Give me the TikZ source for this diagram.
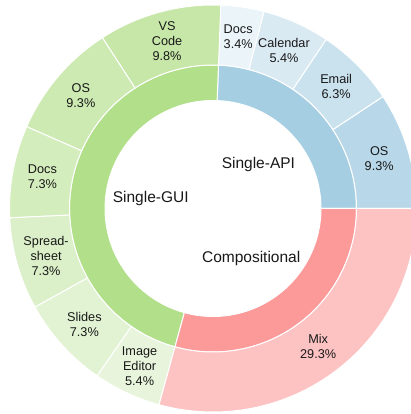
\documentclass[tikz,border=0pt]{standalone}
\usepackage{fontspec}
\setmainfont{Liberation Sans}
\definecolor{guiB}{RGB}{178,223,138}
\definecolor{apiB}{RGB}{166,206,227}
\definecolor{mixB}{RGB}{251,154,153}
\newcommand{\ringseg}[5]{%
  \fill[#1, draw=white, line width=1pt] (#2:#4) arc[start angle=#2, end angle=#3, radius=#4]
    -- (#3:#5) arc[start angle=#3, end angle=#2, radius=#5] -- cycle;}
\tikzset{
  outlbl/.style={align=center, text=black!90, font=\fontsize{12.7}{15}\selectfont, inner sep=0pt},
  inlbl/.style={align=center, text=black!90, font=\fontsize{15.5}{18}\selectfont, inner sep=0pt}
}
\begin{document}
\begin{tikzpicture}[x=1pt,y=1pt]
\useasboundingbox (0,0) rectangle (411,414);
\fill[white] (0,0) rectangle (411,414);
\begin{scope}[shift={(213,205.5)}]
  % inner ring
  \ringseg{apiB}{0}{87.805}{108pt}{143.5pt}
  \ringseg{guiB}{87.805}{254.634}{108pt}{143.5pt}
  \ringseg{mixB}{254.634}{360}{108pt}{143.5pt}
  % outer ring
  \ringseg{apiB!80!white}{0}{33.366}{143.5pt}{203.5pt}
  \ringseg{apiB!60!white}{33.366}{56.195}{143.5pt}{203.5pt}
  \ringseg{apiB!42!white}{56.195}{75.512}{143.5pt}{203.5pt}
  \ringseg{apiB!22!white}{75.512}{87.805}{143.5pt}{203.5pt}
  \ringseg{guiB!74!white}{87.805}{122.927}{143.5pt}{203.5pt}
  \ringseg{guiB!66!white}{122.927}{156.293}{143.5pt}{203.5pt}
  \ringseg{guiB!56!white}{156.293}{182.634}{143.5pt}{203.5pt}
  \ringseg{guiB!47!white}{182.634}{208.976}{143.5pt}{203.5pt}
  \ringseg{guiB!38!white}{208.976}{235.317}{143.5pt}{203.5pt}
  \ringseg{guiB!30!white}{235.317}{254.634}{143.5pt}{203.5pt}
  \ringseg{mixB!60!white}{254.634}{360}{143.5pt}{203.5pt}
  % inner labels
  \node[inlbl] (api) at (43.9:63pt) {Single-API};
  \node[inlbl] (gui) at (171.2:63pt) {Single-GUI};
  \node[inlbl] (comp) at (307.3:63pt) {Compositional};
  % outer labels
  \node[outlbl] (aos) at (16.683:173.5pt) {OS\\9.3\%};
  \node[outlbl] (aemail) at (44.780:173.5pt) {Email\\6.3\%};
  \node[outlbl] (acal) at (65.854:173.5pt) {Calendar\\5.4\%};
  \node[outlbl] (adocs) at (81.659:173.5pt) {Docs\\3.4\%};
  \node[outlbl] (gvs) at (105.366:173.5pt) {VS\\Code\\9.8\%};
  \node[outlbl] (gos) at (139.610:173.5pt) {OS\\9.3\%};
  \node[outlbl] (gdocs) at (169.463:173.5pt) {Docs\\7.3\%};
  \node[outlbl] (gspread) at (195.805:173.5pt) {Spread-\\sheet\\7.3\%};
  \node[outlbl] (gslides) at (222.146:173.5pt) {Slides\\7.3\%};
  \node[outlbl] (gimg) at (244.976:173.5pt) {Image\\Editor\\5.4\%};
  \node[outlbl] (mix) at (307.317:173.5pt) {Mix\\29.3\%};
\end{scope}
\end{tikzpicture}
\end{document}
